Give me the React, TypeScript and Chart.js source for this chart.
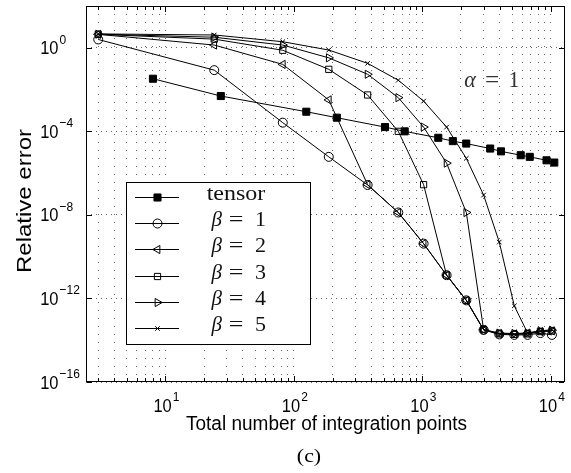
import React, { useEffect, useRef } from 'react';
import { Chart, registerables } from 'chart.js';

Chart.register(...registerables);

const W = 571;
const H = 473;

// ---- data ----
const betaX = [3, 24, 82, 187, 375, 650, 1023, 1545, 2200, 3000, 3970, 5200, 6600, 8300, 10200];
const tensorX = [8, 27, 125, 216, 512, 729, 1331, 1728, 2197, 3375, 4096, 5832, 6859, 9261, 10648];
const tensorErr = [3.3e-2, 4.9e-3, 8.7e-4, 4.5e-4, 1.6e-4, 1.0e-4, 4.9e-5, 3.4e-5, 2.6e-5, 1.5e-5, 1.1e-5, 7.2e-6, 6.0e-6, 4.1e-6, 3.2e-6];
const beta1Err = [2.5, 8.5e-2, 2.6e-4, 6.0e-6, 2.7e-7, 1.3e-8, 4.2e-10, 1.3e-11, 8.1e-13, 3.1e-14, 1.9e-14, 1.8e-14, 1.8e-14, 2.2e-14, 1.8e-14];
const beta2Err = [4.4, 1.35, 1.6e-1, 3.2e-3, 2.8e-7, 1.3e-8, 4.2e-10, 1.3e-11, 8.1e-13, 3.2e-14, 2.1e-14, 2.0e-14, 2.2e-14, 2.6e-14, 2.8e-14];
const beta3Err = [4.4, 2.6, 7.6e-1, 9.3e-2, 5.5e-3, 1.0e-4, 2.8e-7, 1.3e-11, 8.1e-13, 3.2e-14, 2.0e-14, 1.9e-14, 2.0e-14, 2.6e-14, 2.8e-14];
const beta4Err = [4.5, 3.2, 1.35, 3.3e-1, 5.4e-2, 4.1e-3, 1.6e-4, 3.0e-6, 1.3e-8, 3.2e-14, 2.2e-14, 2.1e-14, 2.2e-14, 2.8e-14, 3.0e-14];
const beta5Err = [4.6, 4.1, 1.95, 7.8e-1, 1.8e-1, 2.8e-2, 2.8e-3, 1.6e-4, 5.1e-6, 8.9e-8, 5.0e-10, 4.4e-13, 2.2e-14, 2.8e-14, 3.2e-14];

const seriesNames = ['tensor', 'β = 1', 'β = 2', 'β = 3', 'β = 4', 'β = 5'];
const betaDigits = ['', '1', '2', '3', '4', '5'];

const xMajorTicks = [10, 100, 1000, 10000];
const xTickExponents = ['1', '2', '3', '4'];
const yMajorTicks = [1, 1e-4, 1e-8, 1e-12, 1e-16];
const yTickExponents = ['0', '−4', '−8', '−12', '−16'];

const X_MIN = 2.41;
const X_MAX = 12900;
const Y_MIN = 1e-16;
const Y_MAX = 100;

const xTitle = 'Total number of integration points';
const yTitle = 'Relative error';
const panelLabel = '(c)';

const SANS = '"Liberation Sans", Arial, Helvetica, sans-serif';
const SERIF = '"Liberation Serif", "Times New Roman", serif';

// gridline positions: k * 10^e inside the axis range
const xGridValues: { value: number; major: boolean }[] = [];
for (let e = 0; e <= 4; e++) {
  for (let k = 1; k <= 9; k++) {
    const v = Number((k * Math.pow(10, e)).toPrecision(6));
    if (v > X_MIN && v < X_MAX) xGridValues.push({ value: v, major: k === 1 });
  }
}

function drawText(
  ctx: CanvasRenderingContext2D,
  s: string,
  x: number,
  y: number,
  font: string,
  align: CanvasTextAlign = 'left',
  sx = 1,
  sy = 1,
  color = '#000'
) {
  ctx.save();
  ctx.translate(x, y);
  ctx.scale(sx, sy);
  ctx.font = font;
  ctx.fillStyle = color;
  ctx.textAlign = align;
  ctx.textBaseline = 'alphabetic';
  ctx.fillText(s, 0, 0);
  ctx.restore();
}

function textWidth(ctx: CanvasRenderingContext2D, s: string, font: string, sx = 1) {
  ctx.save();
  ctx.font = font;
  const w = ctx.measureText(s).width * sx;
  ctx.restore();
  return w;
}

function drawMarker(
  ctx: CanvasRenderingContext2D,
  style: string,
  x: number,
  y: number,
  r: number,
  rotationDeg: number,
  fill: string
) {
  ctx.save();
  ctx.beginPath();
  ctx.lineWidth = 1;
  ctx.strokeStyle = '#000';
  ctx.fillStyle = fill;
  let rad = (rotationDeg * Math.PI) / 180;
  if (style === 'circle') {
    ctx.arc(x, y, r, 0, Math.PI * 2);
    ctx.closePath();
  } else if (style === 'rect') {
    const s = Math.SQRT1_2 * r;
    ctx.rect(x - s, y - s, 2 * s, 2 * s);
  } else if (style === 'triangle') {
    ctx.moveTo(x + Math.sin(rad) * r, y - Math.cos(rad) * r);
    rad += (2 * Math.PI) / 3;
    ctx.lineTo(x + Math.sin(rad) * r, y - Math.cos(rad) * r);
    rad += (2 * Math.PI) / 3;
    ctx.lineTo(x + Math.sin(rad) * r, y - Math.cos(rad) * r);
    ctx.closePath();
  } else if (style === 'crossRot') {
    rad += Math.PI / 4;
    const xo = Math.cos(rad) * r;
    const yo = Math.sin(rad) * r;
    ctx.moveTo(x - xo, y - yo);
    ctx.lineTo(x + xo, y + yo);
    ctx.moveTo(x + yo, y - xo);
    ctx.lineTo(x - yo, y + xo);
  }
  if (style !== 'crossRot' && fill !== 'transparent') ctx.fill();
  ctx.stroke();
  ctx.restore();
}

const decorPlugin = {
  id: 'decor',
  afterDatasetsDraw(chart: any) {
    const ctx: CanvasRenderingContext2D = chart.ctx;
    const a = chart.chartArea;
    const xs = chart.scales.x;
    const ys = chart.scales.y;
    const px = (v: number) => Math.round(v) + 0.5;

    ctx.save();
    ctx.strokeStyle = '#000';
    ctx.lineWidth = 1;
    ctx.setLineDash([]);

    // frame
    ctx.strokeRect(a.left + 0.5, a.top + 0.5, a.right - a.left - 1, a.bottom - a.top - 1);

    // inward ticks
    ctx.beginPath();
    xGridValues.forEach((t) => {
      const x = px(xs.getPixelForValue(t.value));
      const len = t.major ? 5 : 3;
      ctx.moveTo(x, a.bottom - 1);
      ctx.lineTo(x, a.bottom - 1 - len);
      ctx.moveTo(x, a.top + 1);
      ctx.lineTo(x, a.top + 1 + len);
    });
    yMajorTicks.forEach((v) => {
      const y = px(ys.getPixelForValue(v));
      ctx.moveTo(a.left + 1, y);
      ctx.lineTo(a.left + 6, y);
      ctx.moveTo(a.right - 1, y);
      ctx.lineTo(a.right - 6, y);
    });
    ctx.stroke();

    // tick labels
    const mainFont = `16.5px ${SANS}`;
    const expFont = `12px ${SANS}`;
    const tsy = 1.12;
    xMajorTicks.forEach((v, i) => {
      const x = xs.getPixelForValue(v);
      const w10 = textWidth(ctx, '10', mainFont);
      const we = textWidth(ctx, xTickExponents[i], expFont);
      const start = x - (w10 + 1 + we) / 2 + 1;
      drawText(ctx, '10', start, 411.5, mainFont, 'left', 1, tsy);
      drawText(ctx, xTickExponents[i], start + w10 + 1, 400.5, expFont, 'left', 1, tsy);
    });
    yMajorTicks.forEach((v, i) => {
      const y = ys.getPixelForValue(v);
      drawText(ctx, '10', 58.5, y + 6.6, mainFont, 'right', 1, tsy);
      drawText(ctx, yTickExponents[i], 59.5, y - 4.2, expFont, 'left', 1, tsy);
    });

    // axis titles
    drawText(ctx, xTitle, (a.left + a.right) / 2 + 1, 429.5, `19px ${SANS}`, 'center', 1, 1.05);
    ctx.save();
    ctx.translate(30.5, 201);
    ctx.rotate(-Math.PI / 2);
    drawText(ctx, yTitle, 0, 0, `20px ${SANS}`, 'center', 1.2, 1);
    ctx.restore();

    // panel label
    drawText(ctx, panelLabel, 309, 462, `19px ${SERIF}`, 'center', 1.15, 1);

    // alpha annotation
    drawText(ctx, 'α', 470, 87, `italic 21px ${SERIF}`, 'center', 1.05, 1.1, '#333');
    drawText(ctx, '=', 492, 87, `21px ${SERIF}`, 'center', 1.2, 1.1, '#333');
    drawText(ctx, '1', 514, 87, `21px ${SERIF}`, 'center', 1.05, 1.1, '#333');

    // legend
    const lx0 = 126.5, ly0 = 182.5, lx1 = 310.5, ly1 = 344.5;
    ctx.fillStyle = '#fff';
    ctx.fillRect(lx0, ly0, lx1 - lx0, ly1 - ly0);
    ctx.strokeStyle = '#000';
    ctx.strokeRect(lx0, ly0, lx1 - lx0, ly1 - ly0);
    const dsets = chart.data.datasets;
    dsets.forEach((ds: any, i: number) => {
      const yc = Math.round(196.7 + 26.3 * i) + 0.5;
      ctx.beginPath();
      ctx.moveTo(135, yc);
      ctx.lineTo(179, yc);
      ctx.strokeStyle = '#000';
      ctx.lineWidth = 1;
      ctx.stroke();
      drawMarker(ctx, ds.pointStyle, 157.5, yc, ds.pointRadius, ds.pointRotation || 0, ds.pointBackgroundColor);
      const base = yc + 2.8;
      if (i === 0) {
        drawText(ctx, seriesNames[0], 236, base, `20px ${SERIF}`, 'center', 1.2, 1, '#111');
      } else {
        drawText(ctx, 'β', 216.7, base, `italic 20px ${SERIF}`, 'center', 1.05, 1, '#111');
        drawText(ctx, '=', 236, base, `20px ${SERIF}`, 'center', 1.3, 1, '#111');
        drawText(ctx, betaDigits[i], 260.5, base, `20px ${SERIF}`, 'center', 1.1, 1, '#111');
      }
    });

    ctx.restore();
  },
};

export default function App() {
  const ref = useRef<HTMLCanvasElement>(null);
  useEffect(() => {
    const canvas = ref.current!;
    const mk = (
      label: string,
      xv: number[],
      yv: number[],
      style: string,
      r: number,
      rot: number,
      fill: string
    ) => ({
      label,
      data: xv.map((x, i) => ({ x, y: yv[i] })),
      borderColor: '#000',
      borderWidth: 1,
      backgroundColor: fill,
      pointStyle: style,
      pointRadius: r,
      pointRotation: rot,
      pointBorderColor: '#000',
      pointBackgroundColor: fill,
      pointBorderWidth: 1,
      tension: 0,
      fill: false,
    });
    const datasets = [
      mk(seriesNames[0], tensorX, tensorErr, 'rect', 5, 0, '#000'),
      mk(seriesNames[1], betaX, beta1Err, 'circle', 4.5, 0, 'transparent'),
      mk(seriesNames[2], betaX, beta2Err, 'triangle', 4.7, -90, 'transparent'),
      mk(seriesNames[3], betaX, beta3Err, 'rect', 4.4, 0, 'transparent'),
      mk(seriesNames[4], betaX, beta4Err, 'triangle', 4.7, 90, 'transparent'),
      mk(seriesNames[5], betaX, beta5Err, 'crossRot', 3.2, 0, 'transparent'),
    ];
    const gridColor = 'rgba(0,0,0,0.6)';
    const chart = new Chart(canvas, {
      type: 'line',
      data: { datasets } as any,
      options: {
        responsive: false,
        animation: false,
        devicePixelRatio: 1,
        events: [],
        layout: { padding: { left: 86, right: 5, top: 5, bottom: 91 } },
        plugins: {
          legend: { display: false },
          tooltip: { enabled: false },
          title: { display: false },
        },
        scales: {
          x: {
            type: 'logarithmic',
            min: X_MIN,
            max: X_MAX,
            afterBuildTicks: (s: any) => {
              s.ticks = xGridValues.map((t) => ({ value: t.value, major: t.major }));
            },
            ticks: { display: false },
            grid: { color: gridColor, lineWidth: 1, drawTicks: false },
            border: { display: false, dash: [1, 7] },
          },
          y: {
            type: 'logarithmic',
            min: Y_MIN,
            max: Y_MAX,
            afterBuildTicks: (s: any) => {
              s.ticks = yMajorTicks.map((v) => ({ value: v, major: true }));
            },
            ticks: { display: false },
            grid: { color: gridColor, lineWidth: 1, drawTicks: false },
            border: { display: false, dash: [1, 4] },
          },
        },
      } as any,
      plugins: [decorPlugin],
    });
    return () => chart.destroy();
  }, []);
  return (
    <div style={{ position: 'fixed', left: 0, top: 0, width: W, height: H, background: '#fff' }}>
      <canvas ref={ref} width={W} height={H} style={{ display: 'block', width: W, height: H }} />
    </div>
  );
}
